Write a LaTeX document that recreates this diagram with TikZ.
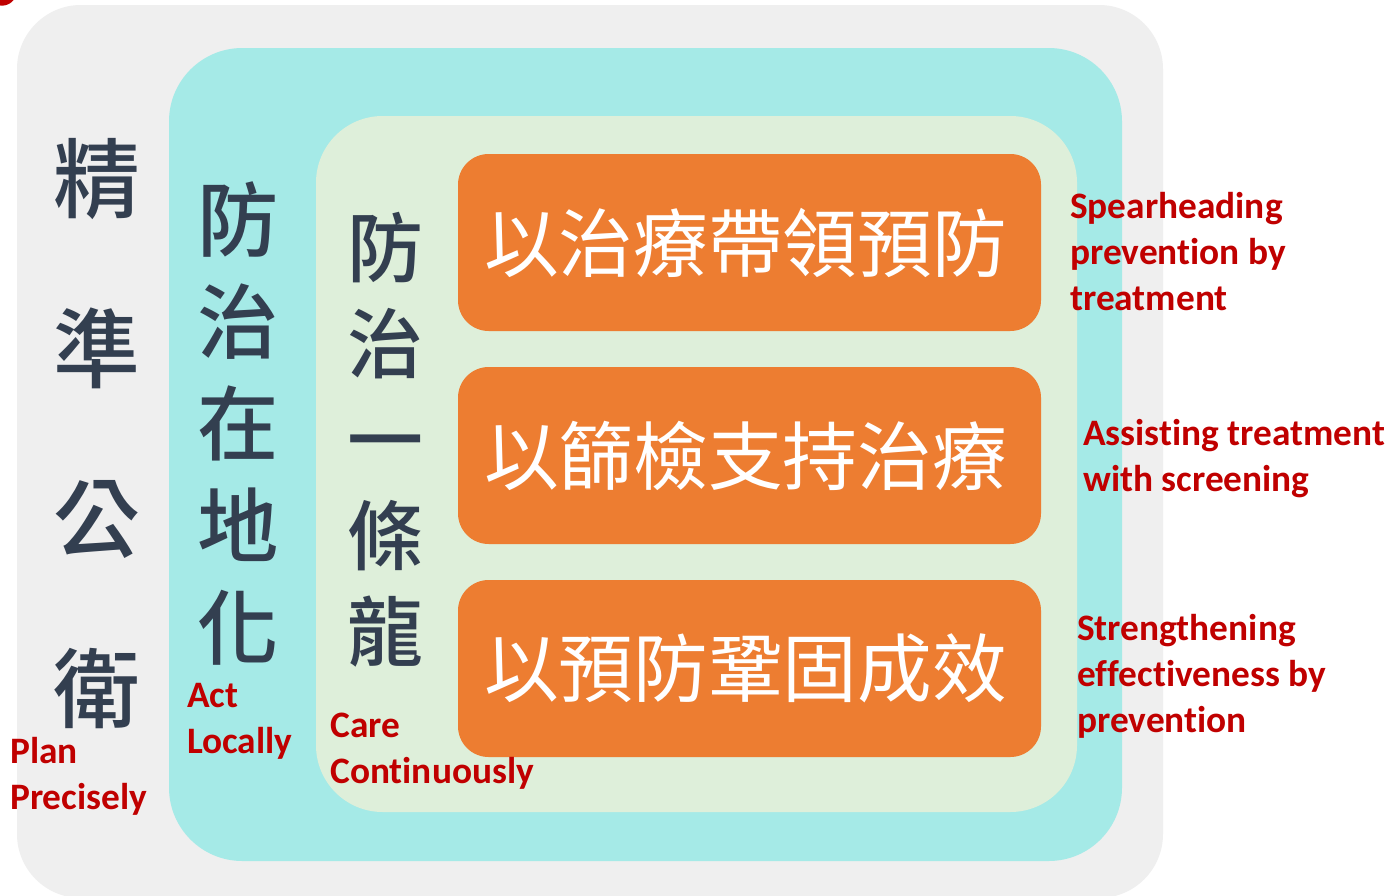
\documentclass[tikz,border=0pt]{standalone}
\usepackage{fontspec}
\setmainfont{Carlito}[Ligatures=NoCommon]
\newfontfamily\cjk{Noto Sans CJK TC}
\newfontfamily\cjkm{Noto Sans CJK TC Medium}
\definecolor{greyc}{HTML}{EFEFEF}
\definecolor{cyanc}{HTML}{A5EAE7}
\definecolor{greenc}{HTML}{DEEFDA}
\definecolor{orangec}{HTML}{ED7D31}
\definecolor{redc}{HTML}{C00000}
\definecolor{darkc}{HTML}{333F50}
\begin{document}
\begin{tikzpicture}[x=0.75pt,y=-0.75pt,
  container/.style={inner sep=0pt, draw=none, outer sep=0pt},
  obox/.style={fill=orangec, rounded corners=23pt, minimum width=437.25pt, minimum height=132.75pt, inner sep=0pt, text=white},
  otext/.style={inner sep=0pt, text=white, font={\cjk\fontsize{56}{60}\selectfont}},
  col/.style={text=darkc, align=center, inner sep=0pt},
  lbl/.style={text=redc, align=left, anchor=north west, inner sep=0pt, font={\bfseries\fontsize{28}{34.5}\selectfont}}]
\useasboundingbox (0,0) rectangle (1400,896);
\fill[white] (0,0) rectangle (1400,896);
\fill[redc] (2,-9) circle (11pt);
\node[container, fill=greyc, rounded corners=48pt, minimum width=859.5pt, minimum height=669.75pt] (outer) at (590,451.5) {};
\node[container, fill=cyanc, rounded corners=55pt, minimum width=714.75pt, minimum height=609.75pt] (mid) at (645.5,454.5) {};
\node[container, fill=greenc, rounded corners=50pt, minimum width=570.75pt, minimum height=522pt] (inner) at (696.5,464) {};
\node[obox] (b1) at (749.5,242.5) {};
\node[obox] (b2) at (749.5,455.5) {};
\node[obox] (b3) at (749.5,668.5) {};
\node[otext] (t1) at (745.5,242.5) {以治療帶領預防};
\node[otext] (t2) at (745.5,455.5) {以篩檢支持治療};
\node[otext] (t3) at (745.5,668.5) {以預防鞏固成效};
\node[col, font={\cjkm\fontsize{65}{127.5}\selectfont}] (c1) at (97,434) {精\\準\\公\\衛};
\node[col, font={\cjkm\fontsize{61}{76.5}\selectfont}] (c2) at (238,424) {防\\治\\在\\地\\化};
\node[col, font={\cjkm\fontsize{57}{72}\selectfont}] (c3) at (385,440) {防\\治\\一\\條\\龍};
\node[lbl] (l1) at (10,737) {Plan\\Precisely};
\node[lbl] (l2) at (187,683) {Act\\Locally};
\node[lbl] (l3) at (330,713) {Care\\Continuously};
\node[lbl] (r1) at (1070,192) {Spearheading\\prevention by\\treatment};
\node[lbl] (r2) at (1083,419) {Assisting treatment\\with screening};
\node[lbl] (r3) at (1077,614) {Strengthening\\effectiveness by\\prevention};
\end{tikzpicture}
\end{document}
